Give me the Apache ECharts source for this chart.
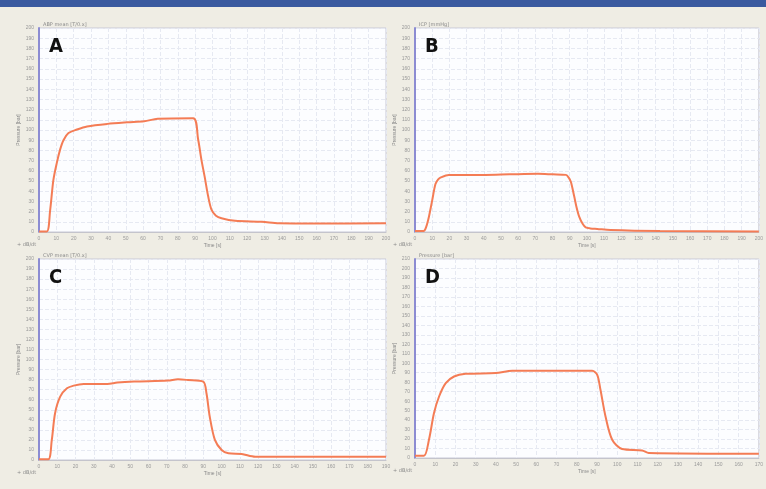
<!DOCTYPE html>
<html>
<head>
<meta charset="utf-8">
<script src="https://cdn.jsdelivr.net/npm/echarts@6/dist/echarts.min.js"></script>
<style>
  html, body { margin: 0; padding: 0; background: #efede4; }
  #chart { width: 766px; height: 489px; }
</style>
</head>
<body>
<div id="chart"></div>
<script>
// panel A
var timeA = [0, 4.5, 6.4, 8.3, 10.3, 12.2, 14.1, 17, 21.9, 27.7, 39.4, 51, 60.6, 68.4, 88.8, 91.7, 93.5, 95.5, 97.5, 99.4, 102, 105.2, 113, 128.5, 138.2, 160, 200];
var valueA = [0.5, 0.5, 21, 51, 68, 81, 90, 97, 100.5, 103.5, 106, 107.5, 108.5, 111, 111.5, 91, 72, 54, 35, 22, 16, 13.5, 11, 10, 8.5, 8.3, 8.5];
// panel B
var timeB = [0, 5, 6.5, 8.1, 10, 11.9, 13.5, 15, 19.6, 40.7, 55, 71.5, 80, 87.8, 89.5, 90.7, 92.6, 94, 95.5, 97.5, 99.3, 102, 106, 113.7, 142.5, 200];
var valueB = [1, 1, 5, 15, 31, 47, 51.5, 53.5, 56, 56, 56.5, 57, 56.5, 56, 53, 49, 35, 24, 15, 8, 4.5, 3.5, 3, 2, 1, 0.5];
// panel C
var timeC = [0, 5.1, 7, 8.8, 11.6, 15.3, 19, 24.5, 37.4, 42.9, 52.1, 70.6, 76.1, 81.6, 89.9, 91.7, 93.5, 96.3, 100, 103.7, 111, 118.4, 190];
var valueC = [0.7, 0.7, 19.9, 46.5, 63, 71.3, 74, 75.6, 75.6, 77, 78, 79, 80.3, 79.6, 78, 66.4, 43, 20, 10, 6.7, 6, 3.3, 3.3];
// panel D
var timeD = [0, 4.4, 6.9, 9.4, 11.9, 15.2, 19.3, 25, 39.9, 48.1, 87.6, 90.1, 91.7, 94.2, 97.5, 102.4, 112.3, 115.6, 170];
var valueD = [2.4, 2.4, 19.3, 47.4, 64.9, 79, 86, 88.8, 89.6, 92, 92, 87.8, 72, 43.8, 19.3, 9.5, 8, 5.3, 4.5];

var panelLetters = ['A', 'B', 'C', 'D'];
var panelTitles = ['ABP mean [T/0.x]', 'ICP [mmHg]', 'CVP mean [T/0.x]', 'Pressure [bar]'];
var xMax = [200, 200, 190, 170];
var yMax = [200, 200, 200, 210];

var grids = [
    { left: 39, top: 28, width: 347, height: 204 },
    { left: 415, top: 28, width: 348, height: 204 },
    { left: 39, top: 259, width: 347, height: 201 },
    { left: 415, top: 259, width: 348, height: 199 }
];

function pairs(xs, ys) {
    var out = [];
    for (var i = 0; i < xs.length; i++) {
        out.push([xs[i], ys[i]]);
    }
    return out;
}

var allData = [pairs(timeA, valueA), pairs(timeB, valueB), pairs(timeC, valueC), pairs(timeD, valueD)];

var chart = echarts.init(document.getElementById('chart'));

var option = {
    backgroundColor: '#efede4',
    animation: false,
    grid: [],
    xAxis: [],
    yAxis: [],
    series: [],
    graphic: [
        { type: 'rect', shape: { x: 0, y: 0, width: 766, height: 7 }, style: { fill: '#3a5a9f' } }
    ]
};

for (var i = 0; i < 4; i++) {
    var g = grids[i];
    option.grid.push({
        left: g.left, top: g.top, width: g.width, height: g.height,
        show: true,
        backgroundColor: '#fcfdff',
        borderColor: '#c9c9d6',
        borderWidth: 1
    });
    option.xAxis.push({
        type: 'value',
        gridIndex: i,
        min: 0,
        max: xMax[i],
        interval: 10,
        name: 'Time [s]',
        nameLocation: 'middle',
        nameGap: 11,
        nameTextStyle: { fontSize: 5, color: '#8a8a8a' },
        axisLine: { show: true, lineStyle: { color: '#c4c4cc', width: 1 } },
        axisTick: { show: false },
        axisLabel: { fontSize: 5, color: '#9a9a9a', margin: 4 },
        splitLine: { show: true, lineStyle: { color: '#e6e9f2', type: 'dashed', width: 1 } }
    });
    option.yAxis.push({
        type: 'value',
        gridIndex: i,
        min: 0,
        max: yMax[i],
        interval: 10,
        name: 'Pressure [bar]',
        nameLocation: 'middle',
        nameGap: 18,
        nameTextStyle: { fontSize: 5, color: '#8a8a8a' },
        axisLine: { show: true, lineStyle: { color: '#8c8cd2', width: 2 } },
        axisTick: { show: false },
        axisLabel: { fontSize: 5, color: '#9a9a9a', margin: 5 },
        splitLine: { show: true, lineStyle: { color: '#e6e9f2', type: 'dashed', width: 1 } }
    });
    option.series.push({
        type: 'line',
        xAxisIndex: i,
        yAxisIndex: i,
        data: allData[i],
        showSymbol: false,
        smooth: 0.3,
        lineStyle: { color: '#f47c55', width: 2 },
        itemStyle: { color: '#f47c55' }
    });
    // panel letter
    option.graphic.push({
        type: 'text',
        left: g.left + 10,
        top: g.top + 9,
        z: 100,
        style: {
            text: panelLetters[i],
            fill: '#111111',
            fontSize: 20,
            fontWeight: 'bold',
            fontFamily: 'DejaVu Sans Condensed'
        }
    });
    // small title over the plot
    option.graphic.push({
        type: 'text',
        left: g.left + 4,
        top: g.top - 6,
        style: {
            text: panelTitles[i],
            fill: '#8a8a8a',
            fontSize: 5,
            fontFamily: 'DejaVu Sans'
        }
    });
    option.graphic.push({
        type: 'text',
        left: g.left - 22,
        top: g.top + g.height + 10,
        style: {
            text: '+ dB/dt',
            fill: '#8a8a8a',
            fontSize: 5,
            fontFamily: 'DejaVu Sans'
        }
    });
}

chart.setOption(option);
</script>
</body>
</html>
